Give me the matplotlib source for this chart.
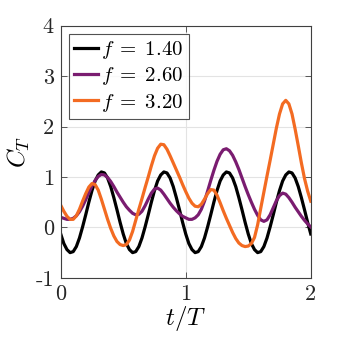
import matplotlib
matplotlib.use('Agg')
import matplotlib.pyplot as plt
import numpy as np

plt.rcParams['mathtext.fontset'] = 'cm'

t = np.round(np.arange(0, 2.0001, 0.025), 3)

ct_f140 = [-0.13, -0.32, -0.44, -0.50, -0.48, -0.38, -0.21, 0.01, 0.25, 0.50,
           0.73, 0.92, 1.04, 1.10, 1.08, 0.98, 0.81, 0.59, 0.35, 0.10,
           -0.13, -0.32, -0.44, -0.50, -0.48, -0.38, -0.21, 0.01, 0.25, 0.50,
           0.73, 0.92, 1.04, 1.10, 1.08, 0.98, 0.81, 0.59, 0.35, 0.10,
           -0.13, -0.32, -0.44, -0.50, -0.48, -0.38, -0.21, 0.01, 0.25, 0.50,
           0.73, 0.92, 1.04, 1.10, 1.08, 0.98, 0.81, 0.59, 0.35, 0.10,
           -0.13, -0.32, -0.44, -0.50, -0.48, -0.38, -0.21, 0.01, 0.25, 0.50,
           0.73, 0.92, 1.04, 1.10, 1.08, 0.98, 0.81, 0.59, 0.35, 0.10,
           -0.13]

ct_f260 = [0.20, 0.18, 0.16, 0.16, 0.18, 0.23, 0.31, 0.42, 0.55, 0.69,
           0.82, 0.93, 1.01, 1.05, 1.04, 0.99, 0.91, 0.81, 0.70, 0.60,
           0.50, 0.41, 0.34, 0.28, 0.25, 0.26, 0.32, 0.43, 0.56, 0.68,
           0.76, 0.78, 0.74, 0.66, 0.57, 0.48, 0.40, 0.33, 0.27, 0.22,
           0.19, 0.16, 0.16, 0.19, 0.25, 0.36, 0.52, 0.72, 0.93, 1.13,
           1.31, 1.45, 1.54, 1.56, 1.52, 1.43, 1.30, 1.15, 0.98, 0.81,
           0.65, 0.50, 0.36, 0.24, 0.15, 0.12, 0.15, 0.25, 0.39, 0.53,
           0.63, 0.68, 0.66, 0.59, 0.50, 0.40, 0.31, 0.22, 0.14, 0.07,
           0.01]

ct_f320 = [0.44, 0.32, 0.22, 0.16, 0.16, 0.23, 0.36, 0.52, 0.67, 0.80,
           0.87, 0.85, 0.74, 0.56, 0.36, 0.16, -0.02, -0.17, -0.28, -0.34,
           -0.36, -0.34, -0.25, -0.08, 0.14, 0.36, 0.57, 0.79, 1.00, 1.22,
           1.42, 1.57, 1.65, 1.64, 1.55, 1.42, 1.28, 1.14, 1.00, 0.85,
           0.71, 0.58, 0.48, 0.42, 0.41, 0.46, 0.56, 0.67, 0.75, 0.74,
           0.64, 0.49, 0.33, 0.18, 0.04, -0.10, -0.22, -0.31, -0.36, -0.38,
           -0.37, -0.32, -0.20, 0.05, 0.38, 0.70, 1.02, 1.33, 1.65, 1.97,
           2.25, 2.45, 2.52, 2.45, 2.25, 1.95, 1.62, 1.28, 0.97, 0.72,
           0.52]

labels = [r'$f\;=\;1.40$', r'$f\;=\;2.60$', r'$f\;=\;3.20$']
colors = ['black', '#7a1c70', '#f36b22']

fig = plt.figure(figsize=(3.43, 3.43), dpi=100)
ax = fig.add_axes([0.177, 0.19, 0.729, 0.735])

for y, lab, c in zip([ct_f140, ct_f260, ct_f320], labels, colors):
    ax.plot(t, y, color=c, lw=2.3, label=lab)

ax.set_xlim(0, 2)
ax.set_ylim(-1, 4)
ax.set_xticks([0, 1, 2])
ax.set_yticks([-1, 0, 1, 2, 3, 4])
ax.set_xticklabels(['0', '1', '2'], fontfamily='cmr10', fontsize=16)
ax.set_yticklabels(['-1', '0', '1', '2', '3', '4'], fontfamily='cmr10', fontsize=16)
ax.tick_params(direction='in', top=True, right=True, length=4, width=0.6,
               color='#404040', labelcolor='#262626', pad=5)
ax.grid(True, color='#e3e3e3', lw=0.8)
ax.set_axisbelow(True)
for s in ax.spines.values():
    s.set_color('#404040')
    s.set_linewidth(0.8)

ax.set_xlabel(r'$t/T$', fontsize=18, labelpad=0)
ax.set_ylabel(r'$C_T$', fontsize=18, labelpad=2)

leg = ax.legend(loc='upper left', fontsize=15, frameon=True, fancybox=False,
                edgecolor='#262626', handlelength=1.15, handletextpad=0.15,
                labelspacing=0.2, borderpad=0.25, borderaxespad=0.4)
leg.get_frame().set_linewidth(0.8)

fig.savefig('out.png', dpi=100)
